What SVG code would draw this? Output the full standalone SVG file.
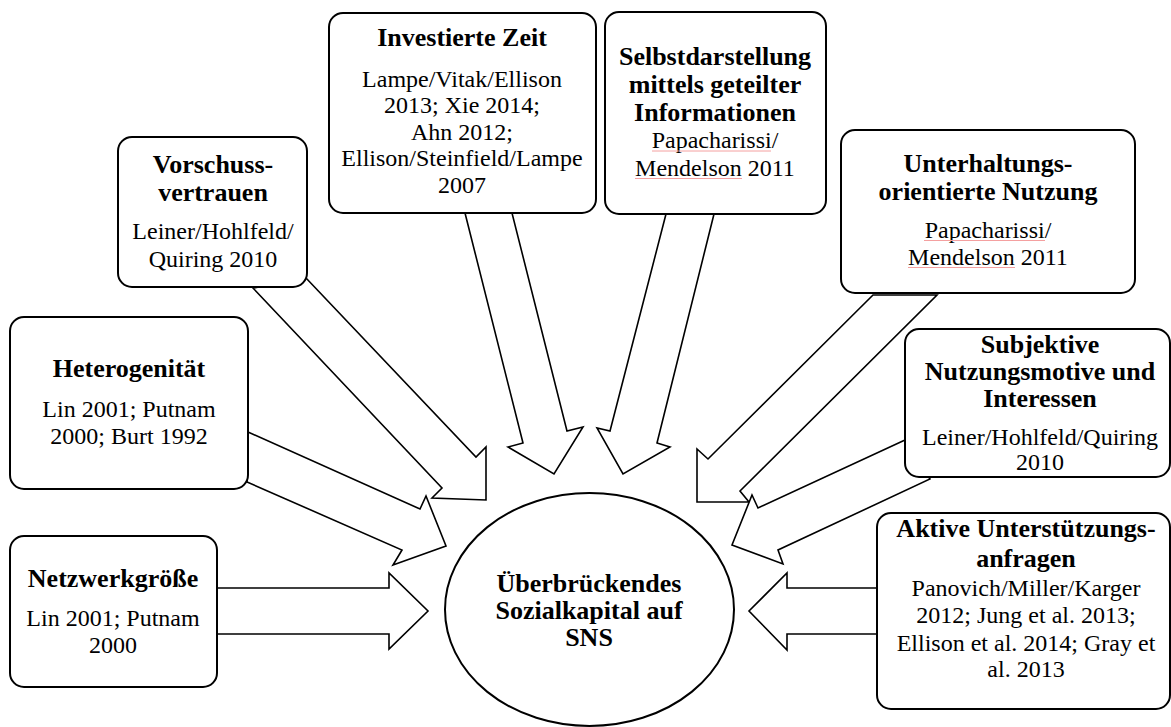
<svg xmlns="http://www.w3.org/2000/svg" width="1171" height="727" viewBox="0 0 1171 727">
<style>
.box{fill:#fff;stroke:#000;stroke-width:2}
.arr{fill:#fff;stroke:#000;stroke-width:1.6;stroke-linejoin:miter}
.t{font-family:"Liberation Serif","Times New Roman",serif;font-size:26px;font-weight:bold;text-anchor:middle;fill:#000}
.n{font-family:"Liberation Serif","Times New Roman",serif;font-size:24px;text-anchor:middle;fill:#000}
.sp{stroke:#f4a0a0;stroke-width:1;fill:none}
</style>
<rect width="1171" height="727" fill="#fff"/>
<g id="connectors">
<polygon class="arr" points="217,588 389,588 389,573 428,611 389,649 389,634 217,634"/>
<polygon class="arr" points="877,588 787,588 787,573 749,611 787,650 787,634 877,634"/>
<polygon class="arr" points="248,432 420,509 426,496 446,546 393,565 402,550 247,482"/>
<polygon class="arr" points="306,278 476,457 486,447 486,500 432,498 442,488 253,288"/>
<polygon class="arr" points="465,213 523,443 508,447 554,474 583,427 567,431 512,213"/>
<polygon class="arr" points="666,214 610,431 597,428 623,474 670,447 657,443 714,214"/>
<polygon class="arr" points="873,295 708,459 697,449 697,502 749,502 740,491 937,295"/>
<polygon class="arr" points="905,440 758,508 752,495 732,545 783,564 778,550 930,479"/>
</g>
<g id="center">
<ellipse cx="589.5" cy="609.5" rx="144.5" ry="116.5" fill="#fff" stroke="#000" stroke-width="2"/>
<text class="t" x="589" y="592">Überbrückendes</text>
<text class="t" x="589" y="619">Sozialkapital auf</text>
<text class="t" x="589" y="646">SNS</text>
</g>
<g id="netzwerkgroesse">
<rect class="box" x="10" y="536" width="207" height="151" rx="14"/>
<text class="t" x="113" y="587">Netzwerkgröße</text>
<text class="n" x="113" y="626">Lin 2001; Putnam</text>
<text class="n" x="113" y="653">2000</text>
</g>
<g id="heterogenitaet">
<rect class="box" x="10" y="317" width="238" height="172" rx="14"/>
<text class="t" x="129" y="377">Heterogenität</text>
<text class="n" x="129" y="417">Lin 2001; Putnam</text>
<text class="n" x="129" y="444">2000; Burt 1992</text>
</g>
<g id="vorschussvertrauen">
<rect class="box" x="118" y="137" width="189" height="150" rx="14"/>
<text class="t" x="213" y="173">Vorschuss-</text>
<text class="t" x="213" y="201">vertrauen</text>
<text class="n" x="213" y="239">Leiner/Hohlfeld/</text>
<text class="n" x="213" y="267">Quiring 2010</text>
</g>
<g id="investierte-zeit">
<rect class="box" x="329" y="13" width="267" height="200" rx="14"/>
<text class="t" x="462" y="46">Investierte Zeit</text>
<text class="n" x="462" y="87">Lampe/Vitak/Ellison</text>
<text class="n" x="462" y="113">2013; Xie 2014;</text>
<text class="n" x="462" y="140">Ahn 2012;</text>
<text class="n" x="462" y="166">Ellison/Steinfield/Lampe</text>
<text class="n" x="462" y="193">2007</text>
</g>
<g id="selbstdarstellung">
<rect class="box" x="605" y="12" width="221" height="202" rx="14"/>
<text class="t" x="715" y="65">Selbstdarstellung</text>
<text class="t" x="715" y="93">mittels geteilter</text>
<text class="t" x="715" y="121">Informationen</text>
<text class="n" x="715" y="148">Papacharissi/</text>
<text class="n" x="715" y="176">Mendelson 2011</text>
<line class="sp" x1="652" y1="151" x2="771" y2="151"/>
<line class="sp" x1="635" y1="178.5" x2="742" y2="178.5"/>
</g>
<g id="unterhaltung">
<rect class="box" x="841" y="130" width="294" height="163" rx="14"/>
<text class="t" x="988" y="172">Unterhaltungs-</text>
<text class="t" x="988" y="200">orientierte Nutzung</text>
<text class="n" x="988" y="238">Papacharissi/</text>
<text class="n" x="988" y="265">Mendelson 2011</text>
<line class="sp" x1="924" y1="240.5" x2="1045" y2="240.5"/>
<line class="sp" x1="908" y1="267.5" x2="1015" y2="267.5"/>
</g>
<g id="subjektive">
<rect class="box" x="905" y="329" width="265" height="148" rx="14"/>
<text class="t" x="1040" y="353">Subjektive</text>
<text class="t" x="1040" y="380">Nutzungsmotive und</text>
<text class="t" x="1040" y="407">Interessen</text>
<text class="n" x="1040" y="445">Leiner/Hohlfeld/Quiring</text>
<text class="n" x="1040" y="470">2010</text>
</g>
<g id="aktive">
<rect class="box" x="877" y="513" width="293" height="196" rx="14"/>
<text class="t" x="1026" y="537">Aktive Unterstützungs-</text>
<text class="t" x="1026" y="567">anfragen</text>
<text class="n" x="1026" y="596">Panovich/Miller/Karger</text>
<text class="n" x="1026" y="623">2012; Jung et al. 2013;</text>
<text class="n" x="1026" y="651">Ellison et al. 2014; Gray et</text>
<text class="n" x="1026" y="677">al. 2013</text>
</g>
</svg>
